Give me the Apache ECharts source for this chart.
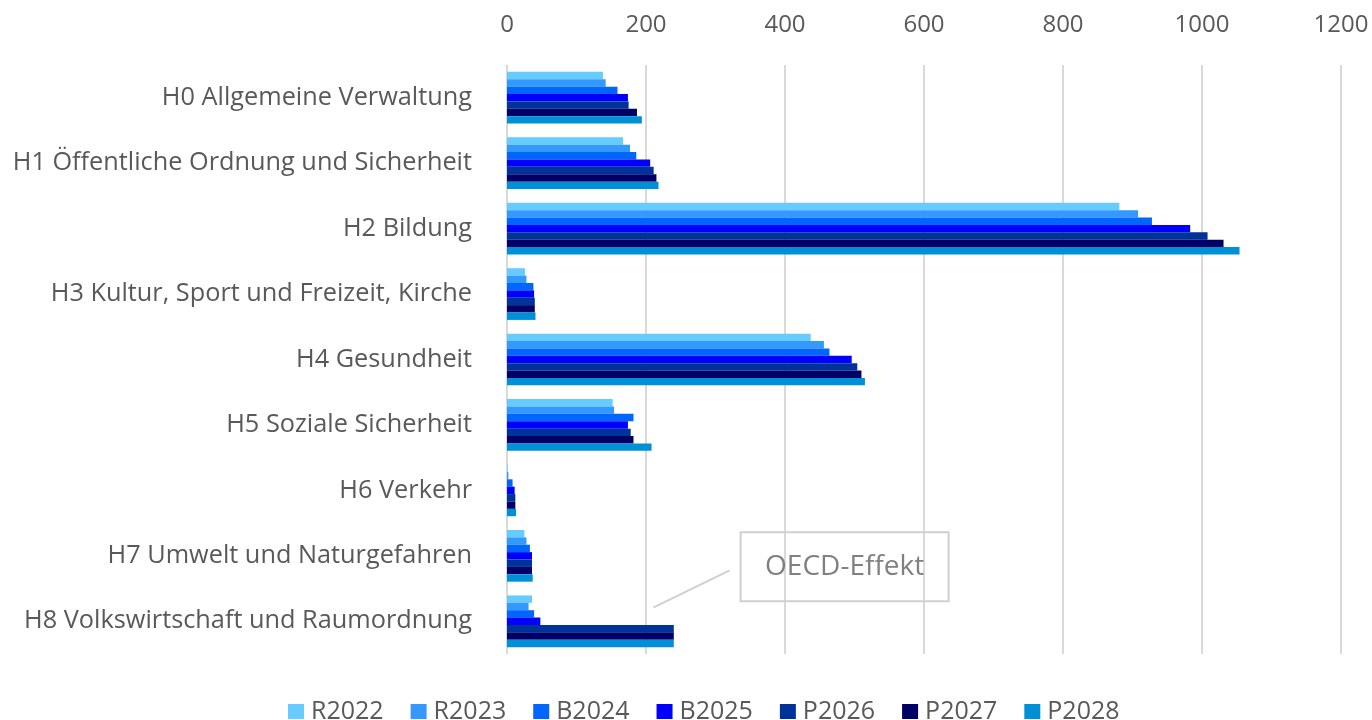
<!DOCTYPE html>
<html>
<head>
<meta charset="utf-8">
<title>Ausgaben nach Funktionen</title>
<script src="https://cdn.jsdelivr.net/npm/echarts@6/dist/echarts.min.js"></script>
<style>
  html, body { margin: 0; padding: 0; background: #ffffff; }
  #chart { width: 1372px; height: 720px; }
</style>
</head>
<body>
<div id="chart"></div>
<script>
// Functional areas (top to bottom)
const categories = [
  'H0 Allgemeine Verwaltung',
  'H1 Öffentliche Ordnung und Sicherheit',
  'H2 Bildung',
  'H3 Kultur, Sport und Freizeit, Kirche',
  'H4 Gesundheit',
  'H5 Soziale Sicherheit',
  'H6 Verkehr',
  'H7 Umwelt und Naturgefahren',
  'H8 Volkswirtschaft und Raumordnung'
];

// Values per year (same order as categories)
const r2022 = [138, 167, 881, 26, 437, 152, 1, 25, 36];
const r2023 = [142, 177, 908, 28, 456, 154, 2, 28, 31];
const b2024 = [159, 186, 928, 38, 464, 182, 8, 33, 39];
const b2025 = [174, 206, 983, 39, 496, 174, 11, 36, 48];
const p2026 = [175, 211, 1008, 40, 504, 178, 12, 36, 240];
const p2027 = [187, 215, 1031, 40, 510, 182, 12, 36, 240];
const p2028 = [194, 218, 1054, 41, 515, 208, 13, 37, 240];

const seriesNames = ['R2022', 'R2023', 'B2024', 'B2025', 'P2026', 'P2027', 'P2028'];
const seriesValues = [r2022, r2023, b2024, b2025, p2026, p2027, p2028];
const seriesColors = ['#66CCFF', '#3399FF', '#0066FF', '#0000FF', '#003399', '#000066', '#0090D6'];

// x-axis ticks
const axisMin = 0;
const axisMax = 1200;
const axisStep = 200;

// Callout on the H8 group
const calloutText = 'OECD-Effekt';
const calloutValue = 211;
const calloutCategory = categories[8];

const FONT = '"Open Sans", "Noto Sans", sans-serif';
const TEXT_COLOR = '#595959';
const GRID_COLOR = '#D9D9D9';

const chart = echarts.init(document.getElementById('chart'), null, { renderer: 'canvas' });

const option = {
  backgroundColor: '#ffffff',
  animation: false,
  textStyle: { fontFamily: FONT },
  grid: { left: 507, right: 31, top: 65, bottom: 66, containLabel: false },
  xAxis: {
    type: 'value',
    position: 'top',
    min: axisMin,
    max: axisMax,
    interval: axisStep,
    axisLine: { show: false },
    axisTick: { show: false },
    axisLabel: {
      color: TEXT_COLOR, fontSize: 24, fontFamily: FONT, margin: 28,
      formatter: v => String(v)
    },
    splitLine: { show: true, lineStyle: { color: GRID_COLOR, width: 2 } }
  },
  yAxis: {
    type: 'category',
    inverse: true,
    data: categories,
    axisLine: { show: false },
    axisTick: { show: false },
    axisLabel: { color: TEXT_COLOR, fontSize: 25.3, fontFamily: FONT, margin: 35 }
  },
  legend: {
    data: seriesNames,
    left: 283,
    top: 694,
    icon: 'rect',
    itemWidth: 16,
    itemHeight: 15,
    itemGap: 27,
    textStyle: { color: TEXT_COLOR, fontSize: 25, fontFamily: FONT, padding: [0, 0, 0, 2] }
  },
  series: seriesNames.map((name, i) => ({
    name: name,
    type: 'bar',
    data: seriesValues[i],
    barGap: '0%',
    barCategoryGap: '21%',
    itemStyle: { color: seriesColors[i] }
  }))
};

chart.setOption(option);

// Callout box with leader line, positioned from data coordinates
const anchor = chart.convertToPixel({ xAxisIndex: 0, yAxisIndex: 0 }, [calloutValue, calloutCategory]);
const ax = anchor[0];
const ay = anchor[1];
chart.setOption({
  graphic: [
    {
      type: 'line',
      shape: { x1: ax, y1: ay - 14, x2: ax + 76, y2: ay - 51 },
      style: { stroke: '#D0D0D0', lineWidth: 2 },
      z: 10
    },
    {
      type: 'rect',
      shape: { x: ax + 87, y: ay - 89, width: 208, height: 69 },
      style: { fill: 'rgba(255,255,255,0)', stroke: '#D0D0D0', lineWidth: 2 },
      z: 10
    },
    {
      type: 'text',
      x: ax + 87 + 104,
      y: ay - 89 + 34.5,
      style: {
        text: calloutText,
        fill: '#808080',
        font: '28px ' + FONT,
        align: 'center',
        verticalAlign: 'middle'
      },
      z: 11
    }
  ]
});
</script>
</body>
</html>
